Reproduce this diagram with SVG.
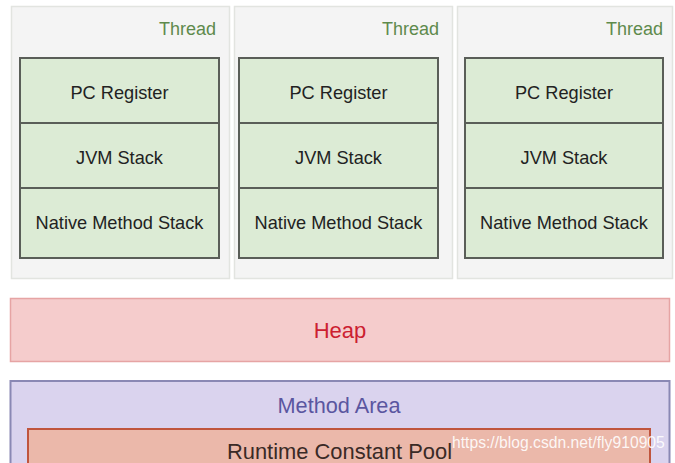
<svg xmlns="http://www.w3.org/2000/svg" width="675" height="463" viewBox="0 0 675 463">
<style>
text{font-family:"Liberation Sans",Arial,sans-serif}
.panel{fill:#f4f4f4;stroke:#e2e4e0;stroke-width:1.5}
.cell{fill:#dcebd5;stroke:#5a5e58;stroke-width:2}
.lbl{font-size:18.2px;fill:#222;text-anchor:middle}
.thr{font-size:18px;fill:#5e8a4c;text-anchor:end}
</style>
<rect width="675" height="463" fill="#ffffff"/>
<g id="thread1">
<rect class="panel" x="11.5" y="6.5" width="218" height="272"/>
<text class="thr" x="216" y="35">Thread</text>
<rect class="cell" x="20" y="58" width="199" height="65"/>
<text class="lbl" x="119.5" y="99">PC Register</text>
<rect class="cell" x="20" y="123" width="199" height="65"/>
<text class="lbl" x="119.5" y="164">JVM Stack</text>
<rect class="cell" x="20" y="188" width="199" height="70"/>
<text class="lbl" x="119.5" y="229">Native Method Stack</text>
</g>
<g id="thread2">
<rect class="panel" x="234.5" y="6.5" width="218" height="272"/>
<text class="thr" x="439" y="35">Thread</text>
<rect class="cell" x="239" y="58" width="199" height="65"/>
<text class="lbl" x="338.5" y="99">PC Register</text>
<rect class="cell" x="239" y="123" width="199" height="65"/>
<text class="lbl" x="338.5" y="164">JVM Stack</text>
<rect class="cell" x="239" y="188" width="199" height="70"/>
<text class="lbl" x="338.5" y="229">Native Method Stack</text>
</g>
<g id="thread3">
<rect class="panel" x="457.5" y="6.5" width="215" height="272"/>
<text class="thr" x="663" y="35">Thread</text>
<rect class="cell" x="465" y="58" width="198" height="65"/>
<text class="lbl" x="564" y="99">PC Register</text>
<rect class="cell" x="465" y="123" width="198" height="65"/>
<text class="lbl" x="564" y="164">JVM Stack</text>
<rect class="cell" x="465" y="188" width="198" height="70"/>
<text class="lbl" x="564" y="229">Native Method Stack</text>
</g>
<g id="heap">
<rect x="10.5" y="298.5" width="659" height="63" fill="#f5cccc" stroke="#e6a4a4" stroke-width="1.5"/>
<text x="340" y="338" font-size="22" fill="#cc2030" text-anchor="middle">Heap</text>
</g>
<g id="method-area">
<rect x="10.5" y="381" width="659" height="90" fill="#dad3ee" stroke="#8a88b4" stroke-width="2"/>
<text x="339" y="413" font-size="21.7" fill="#5a56a0" text-anchor="middle">Method Area</text>
</g>
<g id="runtime-constant-pool">
<rect x="28" y="429" width="622" height="50" fill="#ebb8aa" stroke="#c0553d" stroke-width="2"/>
<text x="339.5" y="459" font-size="21.9" fill="#3a2a26" text-anchor="middle">Runtime Constant Pool</text>
</g>
<g id="connectors"/>
<text x="452" y="448" font-size="15.7" fill="#ffffff" fill-opacity="0.9">https://blog.csdn.net/fly910905</text>
</svg>
